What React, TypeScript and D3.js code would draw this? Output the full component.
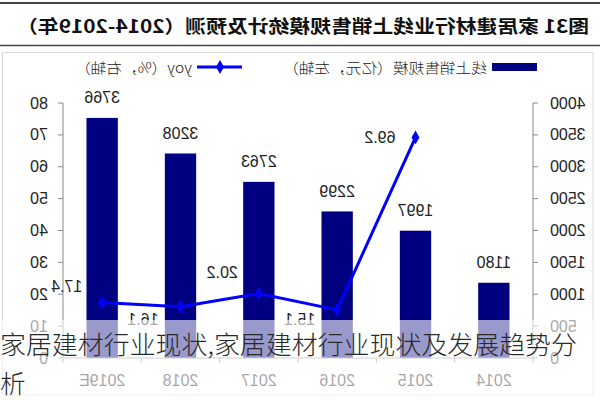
import React from 'react';
import * as d3 from 'd3';

const years = ['2014', '2015', '2016', '2017', '2018', '2019E'];
const sales = [1180, 1997, 2299, 2763, 3208, 3766];
const yoy: (number | null)[] = [null, 69.2, 15.1, 20.2, 16.1, 17.4];
const salesTicks = [0, 500, 1000, 1500, 2000, 2500, 3000, 3500, 4000];
const yoyTicks = [0, 10, 20, 30, 40, 50, 60, 70, 80];
const title = '图31 家居建材行业线上销售规模统计及预测（2014-2019年）';
const legendSales = '线上销售规模（亿元，左轴）';
const legendYoy = 'yoy（%，右轴）';
const overlayLine1 = '家居建材行业现状,家居建材行业现状及发展趋势分';
const overlayLine2 = '析';

// label placement offsets (style)
const yoyLabelOffsets: [number, number][] = [[0, 0], [20, 0], [22, 10], [21, -21], [22, 13], [20, -16]];

const W = 600;
const H = 400;
const L = 67;
const R = 537;
const T = 103;
const B = 358;

const NUM_FONT = '"Liberation Sans", Arial, sans-serif';
const CJK_FONT = '"Noto Sans CJK SC", "Noto Sans", sans-serif';

export default function App() {
  const x = d3.scaleBand<string>().domain(years).range([L, R]).paddingInner(0.6).paddingOuter(0.3);
  const yL = d3.scaleLinear().domain([0, 4000]).range([B, T]);
  const yR = d3.scaleLinear().domain([0, 80]).range([B, T]);
  const step = x.step();
  const cx = (y: string) => (x(y) as number) + x.bandwidth() / 2;

  const pts = years
    .map((yr, i) => ({ yr, v: yoy[i], i }))
    .filter((d) => d.v !== null) as { yr: string; v: number; i: number }[];
  const line = d3
    .line<{ yr: string; v: number }>()
    .x((d) => cx(d.yr))
    .y((d) => yR(d.v));
  const diamond = d3.symbol().type(d3.symbolDiamond).size(55)() as string;

  const axisColor = '#8a8a8a';
  const textColor = '#222';

  return (
    <svg width={W} height={H} style={{ position: 'absolute', left: 0, top: 0, background: '#fff' }}>
      <rect x={0} y={0} width={W} height={H} fill="#fff" />
      <g transform={`translate(${W},0) scale(-1,1)`}>
        {/* title */}
        <line x1={0} x2={W} y1={3} y2={3} stroke="#444" strokeWidth={2} />
        <line x1={0} x2={W} y1={45.5} y2={45.5} stroke="#444" strokeWidth={1.5} />
        <text
          x={297}
          y={25}
          textAnchor="middle"
          dominantBaseline="central"
          fontFamily={CJK_FONT}
          fontWeight="bold"
          fontSize={18}
          fill="#111"
          textLength={572}
          lengthAdjust="spacingAndGlyphs"
        >
          {title}
        </text>
        {/* frame */}
        <rect x={7} y={52.5} width={590.5} height={342.5} fill="none" stroke="#d8d8d8" strokeWidth={1} />

        {/* legend */}
        <rect x={63} y={63} width={45} height={8} fill="#000080" />
        <text x={113} y={67} dominantBaseline="central" fontFamily={CJK_FONT} fontSize={14} fontWeight={300} fill={textColor}
          textLength={204} lengthAdjust="spacingAndGlyphs">
          {legendSales}
        </text>
        <line x1={358} x2={403} y1={67} y2={67} stroke="#0000ff" strokeWidth={3} />
        <path d={diamond} transform="translate(380,67)" fill="#0000ff" />
        <text x={408} y={67} dominantBaseline="central" fontFamily={CJK_FONT} fontSize={14} fontWeight={300} fill={textColor}
          textLength={117} lengthAdjust="spacingAndGlyphs">
          {legendYoy}
        </text>

        {/* left axis (sales) */}
        <line x1={L} x2={L} y1={T} y2={B} stroke={axisColor} />
        {salesTicks.map((t) => (
          <g key={'l' + t}>
            <line x1={L - 5} x2={L} y1={yL(t)} y2={yL(t)} stroke={axisColor} />
            <text x={50} y={yL(t)} textAnchor="end" dominantBaseline="central" fontFamily={NUM_FONT} fontSize={16} fill={textColor}>
              {t}
            </text>
          </g>
        ))}
        {/* right axis (yoy) */}
        <line x1={R} x2={R} y1={T} y2={B} stroke={axisColor} />
        {yoyTicks.map((t) => (
          <g key={'r' + t}>
            <line x1={R} x2={R + 5} y1={yR(t)} y2={yR(t)} stroke={axisColor} />
            <text x={552} y={yR(t)} textAnchor="start" dominantBaseline="central" fontFamily={NUM_FONT} fontSize={16} fill={textColor}>
              {t}
            </text>
          </g>
        ))}

        {/* bars */}
        {years.map((yr, i) => (
          <g key={'b' + yr}>
            <rect x={x(yr)} y={yL(sales[i])} width={x.bandwidth()} height={B - yL(sales[i])} fill="#000080" />
            <text x={cx(yr)} y={yL(sales[i]) - 20} textAnchor="middle" dominantBaseline="central" fontFamily={NUM_FONT} fontSize={16} fill={textColor}>
              {sales[i]}
            </text>
          </g>
        ))}

        {/* x axis */}
        <line x1={L} x2={R} y1={B} y2={B} stroke={axisColor} />
        {d3.range(years.length + 1).map((k) => (
          <line key={'xt' + k} x1={L + k * step} x2={L + k * step} y1={B} y2={B + 5} stroke={axisColor} />
        ))}
        {years.map((yr) => (
          <text key={'xl' + yr} x={cx(yr)} y={380} textAnchor="middle" dominantBaseline="central" fontFamily={NUM_FONT} fontSize={16} fill={textColor}>
            {yr}
          </text>
        ))}

        {/* yoy line */}
        <path d={line(pts) as string} fill="none" stroke="#0000ff" strokeWidth={3} />
        {pts.map((d) => (
          <path key={'m' + d.yr} d={diamond} transform={`translate(${cx(d.yr)},${yR(d.v)})`} fill="#0000ff" />
        ))}
        {pts.map((d) => (
          <text
            key={'yl' + d.yr}
            x={cx(d.yr) + yoyLabelOffsets[d.i][0]}
            y={yR(d.v) + yoyLabelOffsets[d.i][1]}
            textAnchor="start"
            dominantBaseline="central"
            fontFamily={NUM_FONT}
            fontSize={16}
            fill={textColor}
          >
            {d.v.toFixed(1)}
          </text>
        ))}
      </g>

      {/* watermark overlay */}
      <rect x={0} y={320} width={W} height={80} fill="#fff" fillOpacity={0.6} />
      <text x={0} y={342} dominantBaseline="central" fontFamily={CJK_FONT} fontSize={25.5} fontWeight={300} fill="#2a2a2a"
        textLength={577} lengthAdjust="spacingAndGlyphs">
        {overlayLine1}
      </text>
      <text x={0} y={381} dominantBaseline="central" fontFamily={CJK_FONT} fontSize={25.5} fontWeight={300} fill="#2a2a2a">
        {overlayLine2}
      </text>
    </svg>
  );
}
